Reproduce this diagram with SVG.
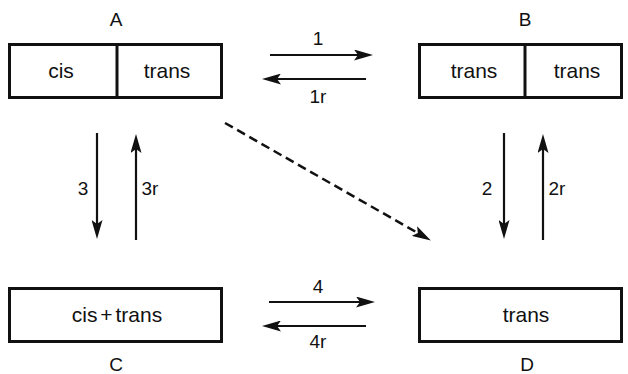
<svg xmlns="http://www.w3.org/2000/svg" width="628" height="374" viewBox="0 0 628 374">
<style>
.box{fill:#fff;stroke:#111;stroke-width:3}
.div{stroke:#111;stroke-width:3}
.t{font-family:"Liberation Sans",Arial,sans-serif;font-size:21px;fill:#111;text-anchor:middle}
.l{font-family:"Liberation Sans",Arial,sans-serif;font-size:19px;fill:#111;text-anchor:middle}
.a{stroke:#111;stroke-width:2.2;fill:none;marker-end:url(#ah)}
.d{stroke:#111;stroke-width:2.5;fill:none;stroke-dasharray:9 5;marker-end:url(#ah)}
</style>
<defs>
<marker id="ah" viewBox="0 0 19 11" refX="12" refY="5.5" markerWidth="19" markerHeight="11" markerUnits="userSpaceOnUse" orient="auto">
<path d="M0,0 L19,5.5 L0,11 L4,5.5 Z" fill="#111"/>
</marker>
</defs>
<g id="A">
<rect class="box" x="9.5" y="44.5" width="212" height="53"/>
<line class="div" x1="117" y1="44.5" x2="117" y2="97.5"/>
<text class="t" x="61" y="78">cis</text>
<text class="t" x="167" y="78">trans</text>
<text class="l" x="116" y="26">A</text>
</g>
<g id="B">
<rect class="box" x="419.5" y="44.5" width="202" height="53"/>
<line class="div" x1="525" y1="44.5" x2="525" y2="97.5"/>
<text class="t" x="474" y="78">trans</text>
<text class="t" x="577" y="78">trans</text>
<text class="l" x="525" y="26">B</text>
</g>
<g id="C">
<rect class="box" x="9.5" y="288.5" width="212" height="53"/>
<text class="t" x="117" y="322" style="word-spacing:-3px">cis + trans</text>
<text class="l" x="116" y="371">C</text>
</g>
<g id="D">
<rect class="box" x="419.5" y="288.5" width="202" height="53"/>
<text class="t" x="526" y="322">trans</text>
<text class="l" x="527" y="371">D</text>
</g>
<g id="connectors">
<line class="a" x1="270" y1="55" x2="366" y2="55"/>
<line class="a" x1="366" y1="79" x2="269" y2="79"/>
<line class="a" x1="269" y1="302" x2="368" y2="302"/>
<line class="a" x1="366" y1="326" x2="269" y2="326"/>
<line class="a" x1="97" y1="133" x2="97" y2="232"/>
<line class="a" x1="136" y1="240" x2="136" y2="141"/>
<line class="a" x1="504" y1="133" x2="504" y2="232"/>
<line class="a" x1="543" y1="240" x2="543" y2="141"/>
<line class="d" x1="225" y1="123" x2="424.8" y2="237"/>
<text class="l" x="318" y="45">1</text>
<text class="l" x="318" y="103">1r</text>
<text class="l" x="318" y="293">4</text>
<text class="l" x="318" y="348">4r</text>
<text class="l" x="83" y="195">3</text>
<text class="l" x="150" y="195">3r</text>
<text class="l" x="487" y="195">2</text>
<text class="l" x="557" y="195">2r</text>
</g>
</svg>
